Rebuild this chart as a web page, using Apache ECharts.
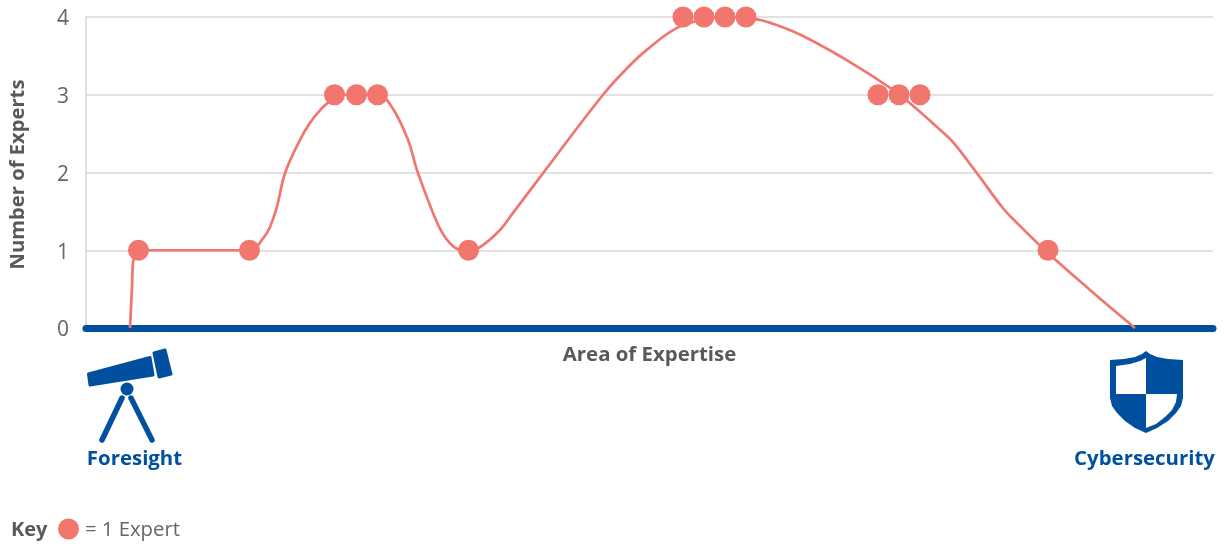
<!DOCTYPE html>
<html>
<head>
<meta charset="utf-8">
<style>html,body{margin:0;padding:0;background:#fff}#c{width:1224px;height:544px}</style>
<script src="https://cdn.jsdelivr.net/npm/echarts@6/dist/echarts.min.js"></script>
</head>
<body>
<div id="c"></div>
<script>
const curveX = [44,46,47,49,53,164,178,184,191,199,214,224,234,242,250,271,292,306,322,331,347,356,364,373,383,394,414,427,457,517,541,561,591,618,639,671,694,721,764,804,824,854,867,891,917,931,962,1004,1049];
const curveY = [0,0.53,0.84,0.92,1,1,1.17,1.30,1.56,1.99,2.42,2.64,2.80,2.90,3,3,3,2.84,2.42,2.03,1.48,1.23,1.09,1.01,1,1.04,1.26,1.48,1.99,3.0,3.34,3.58,3.86,3.97,4,3.97,3.88,3.73,3.42,3.09,2.89,2.55,2.39,1.99,1.54,1.35,0.965,0.49,0];
const expertX = [52.5,163.5,248.5,270.5,291.5,382.5,597,618,639,660,792,813,834,962];
const expertY = [1,1,3,3,3,1,4,4,4,4,3,3,3,1];
const labels = {y:'Number of Experts', x:'Area of Expertise', left:'Foresight', right:'Cybersecurity', key:'Key', keyText:'= 1 Expert'};

const FONT = '"Open Sans", sans-serif';
const RED = '#f0766e', BLUE = '#00509f', GREY = '#666666', DARK = '#595959';
const zip = (a,b) => a.map((v,i)=>[v,b[i]]);

const chart = echarts.init(document.getElementById('c'), null, {renderer:'canvas'});
chart.setOption({
  animation:false,
  backgroundColor:'#fff',
  grid:{left:86,top:17,width:1127,height:311,containLabel:false,outerBoundsMode:'none'},
  xAxis:{
    type:'value',min:0,max:1127,
    name:labels.x,nameLocation:'middle',nameGap:17,
    nameTextStyle:{fontFamily:FONT,fontSize:20.4,fontWeight:'bold',color:DARK},
    axisLine:{show:true,lineStyle:{color:BLUE,width:7,cap:'round'}},
    axisTick:{show:false},axisLabel:{show:false},splitLine:{show:false}
  },
  yAxis:{
    type:'value',min:0,max:4,interval:1,
    name:labels.y,nameLocation:'middle',nameGap:58,nameRotate:90,
    nameTextStyle:{fontFamily:FONT,fontSize:20.2,fontWeight:'bold',color:DARK,padding:[0,4,0,0]},
    axisLine:{show:true,lineStyle:{color:'#d9d9d9',width:1.6}},
    axisTick:{show:false},
    axisLabel:{margin:17,formatter:'{a|{value}}',
      rich:{a:{fontFamily:FONT,fontSize:21,color:GREY,lineHeight:21,padding:[5,0,0,0]}}},
    splitLine:{show:true,lineStyle:{color:'#d9d9d9',width:1.6}}
  },
  series:[
    {type:'line',data:zip(curveX,curveY),smooth:0.4,showSymbol:false,symbol:'none',clip:false,z:2,
     lineStyle:{color:RED,width:2.7}},
    {type:'scatter',data:zip(expertX,expertY),symbol:'circle',symbolSize:21,clip:false,z:5,
     itemStyle:{color:RED,opacity:1}}
  ],
  graphic:[
    {type:'polygon',shape:{points:[[88.5,374],[150,357.5],[153,375],[90,385]]},style:{fill:BLUE,stroke:BLUE,lineWidth:3,lineJoin:'round'}},
    {type:'polygon',shape:{points:[[154,353],[165,350],[171,374],[159,377]]},style:{fill:BLUE,stroke:BLUE,lineWidth:3,lineJoin:'round'}},
    {type:'circle',shape:{cx:127,cy:389,r:6.5},style:{fill:BLUE}},
    {type:'line',shape:{x1:122,y1:398,x2:102,y2:440},style:{stroke:BLUE,lineWidth:5.5,lineCap:'round'}},
    {type:'line',shape:{x1:131,y1:398,x2:152,y2:440},style:{stroke:BLUE,lineWidth:5.5,lineCap:'round'}},
    {type:'polygon',shape:{points:[[1146,351],[1142,354],[1135,357],[1124,359],[1110,360],[1110,398],[1112,406],[1117,413],[1125,421],[1135,428],[1146,433],[1157,428],[1168,421],[1176,413],[1181,406],[1183,398],[1183,360],[1168,359],[1157,357],[1150,354]]},style:{fill:BLUE}},
    {type:'polygon',shape:{points:[[1146,358],[1140,361],[1130,364],[1116,366],[1116,394],[1146,394]]},style:{fill:'#fff'}},
    {type:'polygon',shape:{points:[[1146,394],[1177,394],[1176,402],[1172,410],[1165,417],[1156,424],[1146,428]]},style:{fill:'#fff'}},
    {type:'text',style:{x:134.5,y:459,text:labels.left,fill:BLUE,font:'bold 20.4px '+FONT,textAlign:'center',textVerticalAlign:'middle'}},
    {type:'text',style:{x:1144.5,y:459,text:labels.right,fill:BLUE,font:'bold 20.4px '+FONT,textAlign:'center',textVerticalAlign:'middle'}},
    {type:'text',style:{x:11,y:530,text:labels.key,fill:DARK,font:'bold 20px '+FONT,textAlign:'left',textVerticalAlign:'middle'}},
    {type:'circle',shape:{cx:68.5,cy:529,r:10.5},style:{fill:RED}},
    {type:'text',style:{x:85,y:530,text:labels.keyText,fill:GREY,font:'20.3px '+FONT,textAlign:'left',textVerticalAlign:'middle'}}
  ]
});
</script>
</body>
</html>
